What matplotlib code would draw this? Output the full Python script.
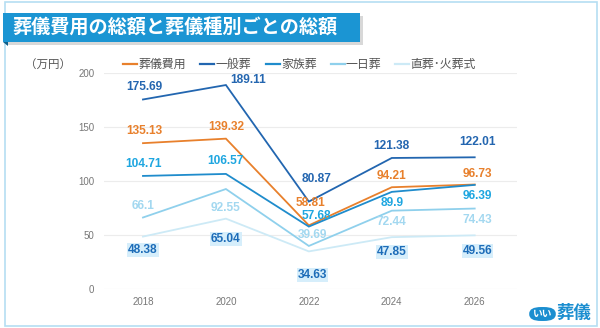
import matplotlib
matplotlib.use("Agg")
import matplotlib.pyplot as plt
from matplotlib.patches import Rectangle, FancyBboxPatch, Polygon
from matplotlib.lines import Line2D

plt.rcParams['font.family'] = ['Noto Sans CJK JP', 'DejaVu Sans']

years = ["2018", "2020", "2022", "2024", "2026"]
series_names = ["葬儀費用", "一般葬", "家族葬", "一日葬", "直葬･火葬式"]
total_cost = [135.13, 139.32, 58.81, 94.21, 96.73]
general = [175.69, 189.11, 80.87, 121.38, 122.01]
family = [104.71, 106.57, 57.68, 89.9, 96.39]
oneday = [66.1, 92.55, 39.69, 72.44, 74.43]
direct = [48.38, 65.04, 34.63, 47.85, 49.56]
yticks = [0, 50, 100, 150, 200]

series = [total_cost, general, family, oneday, direct]
line_colors = ["#e8802c", "#2266b0", "#1f8ccc", "#8fd0ec", "#cdeaf6"]
label_colors = ["#e8802c", "#2466b0", "#1ea6e0", "#a3d8f0", "#1d6cb8"]
# label offsets in pixels (dx, dy)
offsets = [
    [(1, 12), (0, 12), (2, 22.5), (0, 11), (3, 11)],
    [(1, 12), (22, 5), (8, 23), (0, 11.5), (3, 15)],
    [(1, 12), (0, 13), (8, 10.5), (0, -11), (3, -11)],
    [(0, 12), (0, -19), (4, 11), (0, -11), (3, -11)],
    [(0, -13), (0, -20), (4, -24), (0, -15), (3, -16)],
]

fig = plt.figure(figsize=(6, 3.28), dpi=100)
fig.patch.set_facecolor("white")
ax = fig.add_axes([104/600, 1-288.7/328, 413/600, 215.4/328])
ax.set_facecolor("none")

x = list(range(len(years)))
for vals, lc in zip(series, line_colors):
    ax.plot(x, vals, color=lc, lw=1.3, solid_joinstyle='miter', zorder=3)

for i, (vals, tc) in enumerate(zip(series, label_colors)):
    for j, v in enumerate(vals):
        dx, dy = offsets[i][j]
        kw = {}
        if i == 4:
            kw['bbox'] = dict(boxstyle='square,pad=0.08', fc='#d6eefb', ec='none')
        ax.annotate(f"{v:g}", (x[j], v), xytext=(dx, dy), textcoords='offset pixels',
                    ha='center', va='center', color=tc, fontsize=8.6,
                    fontweight='bold', family=['Liberation Sans', 'DejaVu Sans'],
                    zorder=5, **kw)

ax.set_xlim(-0.94/2, 4 + 1.02/2)
ax.set_ylim(0, 200)
ax.set_yticks(yticks)
ax.set_xticks(x)
ax.set_xticklabels(years)
ax.grid(axis='y', color='#ececec', lw=0.8, zorder=0)
for s in ax.spines.values():
    s.set_visible(False)
ax.tick_params(axis='both', length=0, colors='#777777', labelsize=7)
ax.tick_params(axis='y', pad=7)
ax.tick_params(axis='x', pad=6)
for lab in ax.get_xticklabels() + ax.get_yticklabels():
    lab.set_family(['Liberation Sans', 'DejaVu Sans'])

# legend (manual)
leg_x = [123, 200, 266, 331, 395]
ly = 1 - 64/328
for name, lc, lx in zip(series_names, line_colors, leg_x):
    fig.add_artist(Line2D([lx/600, (lx+14)/600], [ly, ly], color=lc, lw=1.6,
                          transform=fig.transFigure))
    fig.text((lx+15)/600, ly, name, ha='left', va='center', fontsize=8.6, color='#555555')

fig.text(25/600, ly, "（万円）", ha='left', va='center', fontsize=8.3, color='#555555')

# border
fig.add_artist(Rectangle((5/600, 2/328), 592/600, 324/328, transform=fig.transFigure,
                         fill=False, ec='#b5def2', lw=1.2))

# title banner
fig.add_artist(Rectangle((6/600, 1-45/328), 357/600, 29/328, transform=fig.transFigure,
                         fc='#d8d8d8', ec='none', zorder=1))
fig.add_artist(Rectangle((3/600, 1-42/328), 357/600, 29/328, transform=fig.transFigure,
                         fc='#1b95d3', ec='none', zorder=2))
fig.add_artist(Polygon([(3/600, 1-42/328), (8/600, 1-42/328), (8/600, 1-46/328)],
                       closed=True, transform=fig.transFigure, fc='#0e5f8a', ec='none', zorder=2))
fig.text(12/600, 1-28/328, "葬儀費用の総額と葬儀種別ごとの総額", ha='left', va='center',
         fontsize=13.8, fontweight='bold', color='white', zorder=3)

# logo
fig.add_artist(FancyBboxPatch((531/600, 1-320/328), 23/600, 12/328,
                              boxstyle='round,pad=0.003,rounding_size=0.02',
                              transform=fig.transFigure, fc='#1b8ed0', ec='none'))
fig.text(542.5/600, 1-314/328, "いい", ha='center', va='center', fontsize=7,
         fontweight='bold', color='white')
fig.text(556/600, 1-313/328, "葬儀", ha='left', va='center', fontsize=12.5,
         fontweight='bold', color='#1b8ed0')

fig.savefig("out.png", dpi=100)
